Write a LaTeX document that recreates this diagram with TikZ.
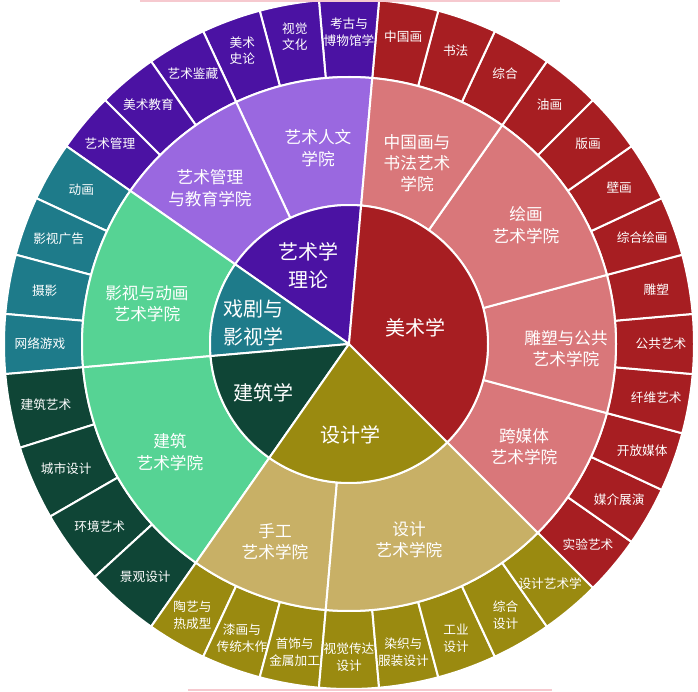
\documentclass[tikz,border=0pt]{standalone}
\usepackage{fontspec}
\setmainfont{Noto Sans CJK SC}

\definecolor{shenhong}{HTML}{A71E22}
\definecolor{qianhong}{HTML}{D9777A}
\definecolor{shenzi}{HTML}{4B12A3}
\definecolor{qianzi}{HTML}{9A68E0}
\definecolor{qingse}{HTML}{1E7B8A}
\definecolor{lvse}{HTML}{56D394}
\definecolor{molv}{HTML}{0F4536}
\definecolor{ganlan}{HTML}{9A8A10}
\definecolor{tuose}{HTML}{C8B066}
\definecolor{fenhong}{HTML}{F6C9CF}

\pgfdeclarelayer{dise}
\pgfsetlayers{dise,main}

% 环形扇区：颜色、内半径、外半径、起始角、终止角
\newcommand{\shanxing}[5]{%
  \begin{pgfonlayer}{dise}
  \filldraw[fill=#1, draw=white, line width=1.5pt] (#4:#2) arc[start angle=#4, end angle=#5, radius=#2]
    -- (#5:#3) arc[start angle=#5, end angle=#4, radius=#3] -- cycle;
  \end{pgfonlayer}}
% 中心扇形：颜色、起始角、终止角
\newcommand{\bingtu}[3]{%
  \begin{pgfonlayer}{dise}
  \filldraw[fill=#1, draw=white, line width=1.5pt] (0,0) -- (#2:139) arc[start angle=#2, end angle=#3, radius=139] -- cycle;
  \end{pgfonlayer}}

\begin{document}
\begin{tikzpicture}[x=0.75pt, y=0.75pt,
  xueke/.style={text=white, font=\fontsize{15}{21}\selectfont, align=center},
  xueyuan/.style={text=white, font=\fontsize{12.5}{16}\selectfont, align=center},
  zhuanye/.style={text=white, font=\fontsize{9.5}{12.5}\selectfont, align=center}]
\useasboundingbox (-349,-347) rectangle (349,344);

% 外圈：专业
\foreach \a/\b/\txt [count=\i] in {-45/-35/实验艺术, -35/-25/媒介展演, -25/-15/开放媒体,
    -15/-5/纤维艺术, -5/5/公共艺术, 5/15/雕塑, 15/25/综合绘画, 25/35/壁画, 35/45/版画,
    45/55/油画, 55/65/综合, 65/75/书法, 75/85/中国画}
  {\shanxing{shenhong}{267}{345}{\a}{\b}
   \node[zhuanye] (hong\i) at ({(\a+\b)/2}:312) {\txt};}
\foreach \a/\b/\txt [count=\i] in {85/95/{考古与\\博物馆学}, 95/105/{视觉\\文化}, 105/115/{美术\\史论},
    115/125/艺术鉴藏, 125/135/美术教育, 135/145/艺术管理}
  {\shanxing{shenzi}{267}{345}{\a}{\b}
   \node[zhuanye] (zi\i) at ({(\a+\b)/2}:312) {\txt};}
\foreach \a/\b/\txt [count=\i] in {145/155/动画, 155/165/影视广告, 165/175/摄影, 175/185/网络游戏}
  {\shanxing{qingse}{267}{345}{\a}{\b}
   \node[zhuanye] (qing\i) at ({(\a+\b)/2}:309) {\txt};}
\foreach \a/\b/\txt [count=\i] in {185/197.5/建筑艺术, 197.5/210/城市设计, 210/222.5/环境艺术, 222.5/235/景观设计}
  {\shanxing{molv}{267}{345}{\a}{\b}
   \node[zhuanye] (lv\i) at ({(\a+\b)/2}:309) {\txt};}
\foreach \a/\b/\txt [count=\i] in {235/245/{陶艺与\\热成型}, 245/255/{漆画与\\传统木作}, 255/265/{首饰与\\金属加工},
    265/275/{视觉传达\\设计}, 275/285/{染织与\\服装设计}, 285/295/{工业\\设计}, 295/305/{综合\\设计}, 305/315/设计艺术学}
  {\shanxing{ganlan}{267}{345}{\a}{\b}
   \node[zhuanye] (huang\i) at ({(\a+\b)/2}:313) {\txt};}

% 中圈：学院
\shanxing{qianzi}{139}{267}{85}{115}
\shanxing{qianzi}{139}{267}{115}{145}
\shanxing{lvse}{139}{267}{145}{185}
\shanxing{lvse}{139}{267}{185}{235}
\shanxing{tuose}{139}{267}{235}{265}
\shanxing{tuose}{139}{267}{265}{315}
\shanxing{qianhong}{139}{267}{-45}{-15}
\shanxing{qianhong}{139}{267}{-15}{15}
\shanxing{qianhong}{139}{267}{15}{55}
\shanxing{qianhong}{139}{267}{55}{85}
\node[xueyuan] (renwen) at (-31,196) {艺术人文\\学院};
\node[xueyuan] (guanli) at (-139,156) {艺术管理\\与教育学院};
\node[xueyuan] (yingshi) at (-202,40) {影视与动画\\艺术学院};
\node[xueyuan] (jianzhuyuan) at (-179,-108) {建筑\\艺术学院};
\node[xueyuan] (shougong) at (-74,-198) {手工\\艺术学院};
\node[xueyuan] (shejiyuan) at (60,-196) {设计\\艺术学院};
\node[xueyuan] (kuameiti) at (175,-103) {跨媒体\\艺术学院};
\node[xueyuan] (diaosu) at (217,-5) {雕塑与公共\\艺术学院};
\node[xueyuan] (huihua) at (177,119) {绘画\\艺术学院};
\node[xueyuan] (guohua) at (68,181) {中国画与\\书法艺术\\学院};

% 内圈：学科
\bingtu{shenzi}{85}{145}
\bingtu{qingse}{145}{185}
\bingtu{molv}{185}{235}
\bingtu{ganlan}{235}{315}
\bingtu{shenhong}{-45}{85}
\node[xueke] (lilun) at (-41,78) {艺术学\\理论};
\node[xueke] (xiju) at (-96,21) {戏剧与\\影视学};
\node[xueke] (jianzhu) at (-86,-49) {建筑学};
\node[xueke] (sheji) at (1,-91) {设计学};
\node[xueke] (meishu) at (66,16) {美术学};

% 上下边缘的淡粉色细线
\draw[fenhong, line width=1.5pt] (-209,343) -- (211,343);
\draw[fenhong, line width=1.5pt] (-161,-346) -- (203,-346);
\end{tikzpicture}
\end{document}
